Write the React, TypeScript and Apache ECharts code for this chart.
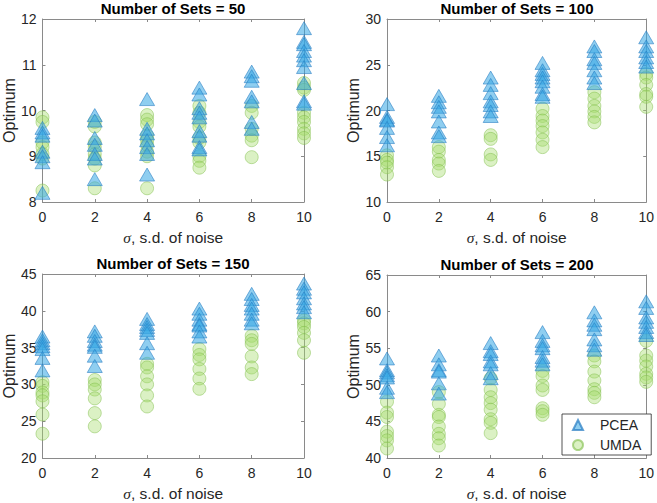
import React, { useEffect, useRef } from "react";
import * as echarts from "echarts";

const sigmaValues = [0, 2, 4, 6, 8, 10];
const panelTitles = ["Number of Sets = 50", "Number of Sets = 100", "Number of Sets = 150", "Number of Sets = 200"];
const yMins = [8, 10, 20, 40];
const yMaxs = [12, 30, 45, 65];
const yIntervals = [1, 5, 5, 5];

// PCEA optimum values per sigma (one inner list per sigma value)
const pcea50 = [
  [9.62, 9.52, 9.45, 9.1, 9.0, 8.87, 8.2],
  [9.9, 9.78, 9.4, 9.25, 9.05, 8.95, 8.5],
  [10.25, 9.6, 9.5, 9.35, 9.2, 9.05, 8.6],
  [10.5, 10.35, 10.05, 9.95, 9.85, 9.55, 9.45, 9.2, 9.15],
  [10.85, 10.75, 10.65, 10.3, 10.2, 9.75, 9.6],
  [11.8, 11.5, 11.45, 11.3, 11.2, 11.1, 10.95, 10.6, 10.2, 10.15],
];
const umda50 = [
  [9.85, 9.75, 9.3, 9.2, 9.05, 8.95, 8.25],
  [9.75, 9.65, 9.3, 9.2, 9.05, 8.95, 8.8, 8.3],
  [9.9, 9.8, 9.7, 9.45, 9.35, 9.25, 9.1, 9.0, 8.3],
  [10.1, 9.95, 9.75, 9.65, 9.4, 9.3, 9.0, 8.9, 8.75],
  [10.1, 9.95, 9.6, 9.45, 9.35, 8.98],
  [10.6, 10.5, 10.45, 9.95, 9.85, 9.75, 9.6, 9.5, 9.4],
];
const pcea100 = [
  [20.7, 19.3, 19.0, 18.9, 18.1, 17.1, 16.2],
  [21.6, 20.9, 20.4, 19.9, 18.8, 17.6, 17.2],
  [23.6, 22.8, 21.9, 21.0, 20.6, 19.9, 19.4],
  [25.2, 24.4, 24.0, 23.6, 23.2, 22.6, 21.8, 21.5],
  [27.0, 26.5, 25.6, 25.2, 24.4, 23.6, 23.0],
  [28.0, 27.0, 26.5, 25.8, 25.3, 24.8],
];
const umda100 = [
  [15.1, 14.6, 14.3, 13.8, 13.0],
  [16.0, 15.5, 14.6, 14.2, 13.4],
  [17.3, 16.9, 15.2, 14.6],
  [20.2, 19.4, 18.9, 18.3, 17.6, 16.8, 16.0],
  [22.0, 21.3, 20.5, 19.9, 19.3, 18.7],
  [24.0, 23.6, 22.8, 21.8, 21.5, 20.4],
];
const pcea150 = [
  [36.5, 36.0, 35.6, 35.2, 34.8, 33.6, 31.9],
  [37.2, 36.6, 35.9, 35.4, 35.1, 33.9, 32.5],
  [38.9, 38.2, 37.8, 37.4, 37.0, 35.6, 34.3],
  [40.3, 39.6, 38.8, 38.2, 38.0, 37.2, 36.5],
  [42.3, 41.6, 40.8, 40.3, 39.6, 38.8, 38.3],
  [43.7, 43.0, 42.5, 41.7, 41.0, 40.5, 39.8],
];
const umda150 = [
  [30.3, 29.8, 28.9, 28.5, 27.7, 25.9, 23.3],
  [30.6, 30.0, 29.3, 28.1, 26.1, 24.3],
  [32.8, 32.3, 31.1, 30.0, 28.5, 27.0],
  [34.8, 34.0, 33.4, 32.1, 30.8, 29.4],
  [36.6, 36.0, 35.5, 33.8, 32.3, 31.4],
  [38.7, 38.3, 37.8, 37.0, 36.0, 34.3],
];
const pcea200 = [
  [53.6, 52.0, 51.7, 51.3, 51.0, 49.6, 49.0],
  [54.0, 52.8, 52.0, 51.8, 50.2, 48.8],
  [55.7, 54.6, 54.2, 53.2, 52.8, 51.6, 50.9],
  [57.2, 56.0, 55.4, 55.0, 53.8, 53.3, 52.8],
  [59.9, 58.8, 58.2, 57.6, 56.2, 55.4, 54.8],
  [61.4, 60.5, 59.2, 58.6, 57.9, 57.2, 56.8],
];
const umda200 = [
  [47.7, 46.2, 45.6, 43.6, 43.0, 42.4, 41.3],
  [49.0, 47.4, 45.9, 45.6, 44.3, 43.3, 42.7, 41.7],
  [50.9, 49.3, 48.3, 47.5, 46.6, 45.3, 44.8, 43.4],
  [51.9, 51.2, 49.9, 49.3, 46.8, 46.4, 45.9],
  [54.0, 53.2, 51.8, 50.6, 49.4, 48.9, 48.3],
  [56.0, 54.0, 53.3, 52.5, 51.5, 51.0, 50.4],
];

const pceaPanels = [pcea50, pcea100, pcea150, pcea200];
const umdaPanels = [umda50, umda100, umda150, umda200];

const FONT = '"Liberation Sans", Arial, Helvetica, sans-serif';
const TXT = "#262626";
const AXC = "#8a8a8a";

const grids = [
  { left: 42, top: 19, width: 262, height: 183 },
  { left: 387, top: 19, width: 260, height: 183 },
  { left: 42, top: 274, width: 262, height: 184 },
  { left: 387, top: 275, width: 260, height: 183 },
];

const umdaStyle = { color: "rgba(165,219,107,0.5)", borderColor: "rgba(125,188,70,0.75)", borderWidth: 0.8 };
const pceaStyle = { color: "rgba(56,168,228,0.7)", borderColor: "rgba(40,125,195,0.9)", borderWidth: 0.8 };

function toPoints(groups: number[][]) {
  const pts: number[][] = [];
  groups.forEach((vals, i) => vals.forEach((v) => pts.push([sigmaValues[i], v])));
  return pts;
}

export default function App() {
  const ref = useRef<HTMLDivElement>(null);
  useEffect(() => {
    if (!ref.current) return;
    const chart = echarts.init(ref.current, undefined, { renderer: "svg" });
    const xAxes: any[] = [];
    const yAxes: any[] = [];
    const titles: any[] = [];
    // legend-only entries (empty) so the legend icons are small
    const series: any[] = [
      { type: "scatter", name: "PCEA", xAxisIndex: 3, yAxisIndex: 3, symbol: "triangle", symbolSize: [10, 9], itemStyle: pceaStyle, data: [] },
      { type: "scatter", name: "UMDA", xAxisIndex: 3, yAxisIndex: 3, symbol: "circle", symbolSize: 9, itemStyle: umdaStyle, data: [] },
    ];
    grids.forEach((g, i) => {
      const lineStyle = { color: AXC, width: 1 };
      xAxes.push({
        type: "value", gridIndex: i, min: 0, max: 10, interval: 2,
        axisLine: { show: true, onZero: false, lineStyle },
        axisTick: { show: true, inside: true, length: 3, lineStyle },
        splitLine: { show: false },
        axisLabel: { color: TXT, fontSize: 14, fontFamily: FONT, margin: 8 },
        name: "{s|σ}, s.d. of noise", nameLocation: "middle", nameGap: 27,
        nameTextStyle: {
          color: TXT, fontSize: 15.5, fontFamily: FONT,
          rich: { s: { fontStyle: "italic", fontFamily: '"Liberation Serif", serif', fontSize: 15.5, color: TXT } },
        },
      });
      yAxes.push({
        type: "value", gridIndex: i, min: yMins[i], max: yMaxs[i], interval: yIntervals[i],
        axisLine: { show: true, onZero: false, lineStyle },
        axisTick: { show: true, inside: true, length: 3, lineStyle },
        splitLine: { show: false },
        axisLabel: { color: TXT, fontSize: 14, fontFamily: FONT, margin: 6 },
        name: "Optimum", nameLocation: "middle", nameGap: 25,
        nameTextStyle: { color: TXT, fontSize: 16, fontFamily: FONT },
      });
      titles.push({
        text: panelTitles[i], left: g.left + g.width / 2, top: g.top - 18, textAlign: "center", padding: 0,
        textStyle: { color: "#000", fontSize: 15, fontWeight: "bold", fontFamily: FONT },
      });
      series.push({
        type: "scatter", name: "UMDA", xAxisIndex: i, yAxisIndex: i, clip: false,
        symbol: "circle", symbolSize: 13, z: 2,
        itemStyle: umdaStyle,
        data: toPoints(umdaPanels[i]),
      });
      series.push({
        type: "scatter", name: "PCEA", xAxisIndex: i, yAxisIndex: i, clip: false,
        symbol: "triangle", symbolSize: [15, 13], z: 3,
        itemStyle: pceaStyle,
        data: toPoints(pceaPanels[i]),
      });
    });
    grids.forEach((g, i) => {
      const lineStyle = { color: AXC, width: 1 };
      xAxes.push({
        type: "value", gridIndex: i, position: "top", min: 0, max: 10, interval: 2,
        axisLine: { show: true, onZero: false, lineStyle },
        axisTick: { show: true, inside: true, length: 3, lineStyle },
        axisLabel: { show: false }, splitLine: { show: false },
      });
      yAxes.push({
        type: "value", gridIndex: i, position: "right", min: yMins[i], max: yMaxs[i], interval: yIntervals[i],
        axisLine: { show: true, onZero: false, lineStyle },
        axisTick: { show: true, inside: true, length: 3, lineStyle },
        axisLabel: { show: false }, splitLine: { show: false },
      });
    });
    chart.setOption({
      animation: false,
      backgroundColor: "#ffffff",
      title: titles,
      grid: grids.map((g) => ({ ...g, containLabel: false })),
      xAxis: xAxes,
      yAxis: yAxes,
      legend: {
        data: ["PCEA", "UMDA"],
        orient: "vertical", left: 562, top: 414,
        padding: [4, 10, 3, 10], itemWidth: 10, itemHeight: 10, itemGap: 6,
        backgroundColor: "#ffffff", borderColor: "#262626", borderWidth: 0.8,
        textStyle: { color: TXT, fontSize: 14, fontFamily: FONT, padding: [0, 0, 0, 12] },
      },
      series,
    });
    return () => chart.dispose();
  }, []);
  return <div ref={ref} style={{ position: "absolute", left: 0, top: 0, width: 657, height: 503 }} />;
}
